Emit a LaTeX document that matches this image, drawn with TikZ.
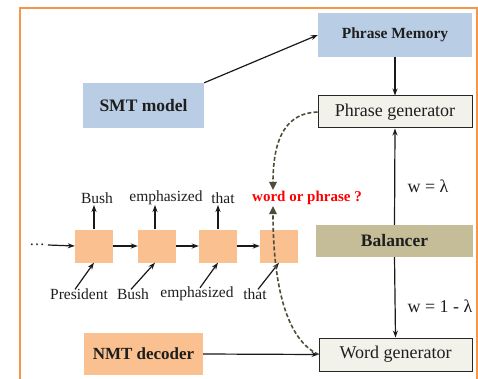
\documentclass[tikz,border=0pt]{standalone}
\usepackage{fontspec}
\setmainfont{Liberation Serif}
\usetikzlibrary{arrows.meta}
\definecolor{frameorange}{HTML}{F79646}
\definecolor{memblue}{HTML}{B9CDE5}
\definecolor{cellorange}{HTML}{FAC090}
\definecolor{baltan}{HTML}{C4BD97}
\definecolor{genfill}{HTML}{F2F2EA}
\definecolor{dashcol}{HTML}{4D4D3A}
\definecolor{txt}{HTML}{1E1E1E}
\begin{document}
\begin{tikzpicture}[x=1pt,y=-1pt,
  every node/.style={text=txt, inner sep=0pt},
  bluebox/.style={fill=memblue, font=\fontsize{15.5}{17}\selectfont\bfseries},
  smtbox/.style={fill=memblue, font=\fontsize{17.5}{19}\selectfont\bfseries},
  genbox/.style={fill=genfill, draw=black!85, line width=1pt, font=\fontsize{18}{20}\selectfont},
  balbox/.style={fill=baltan, font=\fontsize{17.5}{19}\selectfont\bfseries},
  nmtbox/.style={fill=cellorange, font=\fontsize{17}{19}\selectfont\bfseries},
  cell/.style={fill=cellorange, minimum width=38pt, minimum height=33pt},
  wordlbl/.style={font=\fontsize{15.5}{17}\selectfont},
  wlbl/.style={font=\fontsize{18}{20}\selectfont},
  arr/.style={-{Stealth[length=7pt,width=5pt]}, line width=1.2pt, draw=black!90},
  dasharr/.style={-{Triangle[length=8pt,width=7.5pt]}, dash pattern=on 4pt off 2.2pt, line width=1.6pt, draw=dashcol, color=dashcol}
]
\useasboundingbox (0,0) rectangle (478,379);
\fill[white] (0,0) rectangle (478,379);
% frame
\draw[frameorange, line width=2pt] (20,385) -- (20,8) -- (476.5,8) -- (476.5,385);

% right column
\node[bluebox, minimum width=154pt, minimum height=44pt] (pm) at (395,35) {Phrase Memory};
\node[genbox, minimum width=154pt, minimum height=32pt] (pg) at (395,112) {Phrase generator};
\node[balbox, minimum width=157pt, minimum height=32pt] (bal) at (394.5,241) {Balancer};
\node[genbox, minimum width=153pt, minimum height=33pt] (wg) at (395.5,354.5) {Word generator};

% left boxes
\node[smtbox, minimum width=121pt, minimum height=45pt] (smt) at (143.5,105.5) {SMT model};
\node[nmtbox, minimum width=119pt, minimum height=42pt] (nmt) at (143.5,354) {NMT decoder};

% recurrent cells
\node[cell] (c1) at (94,246) {};
\node[cell] (c2) at (157,246) {};
\node[cell] (c3) at (218,246) {};
\node[cell] (c4) at (279,246) {};
\node[wordlbl] (dots) at (37,245) {\dots};

% output words
\node[wordlbl] (o1) at (97,198) {Bush};
\node[wordlbl] (o2) at (166,198) {emphasized};
\node[wordlbl] (o3) at (223,198) {that};
\node[font=\fontsize{15}{17}\selectfont\bfseries, text=red] (q) at (307,198) {word or phrase ?};

% input words
\node[wordlbl] (i1) at (79,294) {President};
\node[wordlbl] (i2) at (133,294) {Bush};
\node[wordlbl] (i3) at (197,294) {emphasized};
\node[wordlbl] (i4) at (255,294) {that};

% weights
\node[wlbl] (wl) at (428,186) {w = λ};
\node[wlbl] (wr) at (440,306) {w = 1 - λ};

% dashed ends
\coordinate (qtop) at (273,190);
\coordinate (qbot) at (273,206);

% connectors
\draw[arr] (smt.north east) -- (pm.west);
\draw[arr] (pm.south) -- (pg.north);
\draw[arr] (bal.north) -- (pg.south);
\draw[arr] (bal.south) -- (wg.north);
\draw[arr] (nmt.east) -- (wg.west);

\draw[arr] (dots.east) ++(3,0) -- (c1.west);
\draw[arr] (c1.east) -- (c2.west);
\draw[arr] (c2.east) -- (c3.west);
\draw[arr] (c3.east) -- (c4.west);

\draw[arr] (c1.north) -- (c1.north |- 0,205);
\draw[arr] ([xshift=-2pt]c2.north) -- ([xshift=-2pt]c2.north |- 0,205);
\draw[arr] (c3.north) -- (c3.north |- 0,205);

\draw[arr] ([xshift=-4pt,yshift=-1pt]i1.north) -- (c1.south);
\draw[arr] ([xshift=-2pt,yshift=-1pt]i2.north) -- ([xshift=-2pt]c2.south);
\draw[arr] ([xshift=3pt,yshift=-1pt]i3.north) -- (c3.south);
\draw[arr] ([xshift=3pt,yshift=-1pt]i4.north) -- (c4.south);

\draw[dasharr] (pg.west) .. controls (288,113) and (273,135) .. (qtop);
\draw[dasharr] (wg.west) .. controls (283,338) and (273,275) .. (qbot);
\end{tikzpicture}
\end{document}
